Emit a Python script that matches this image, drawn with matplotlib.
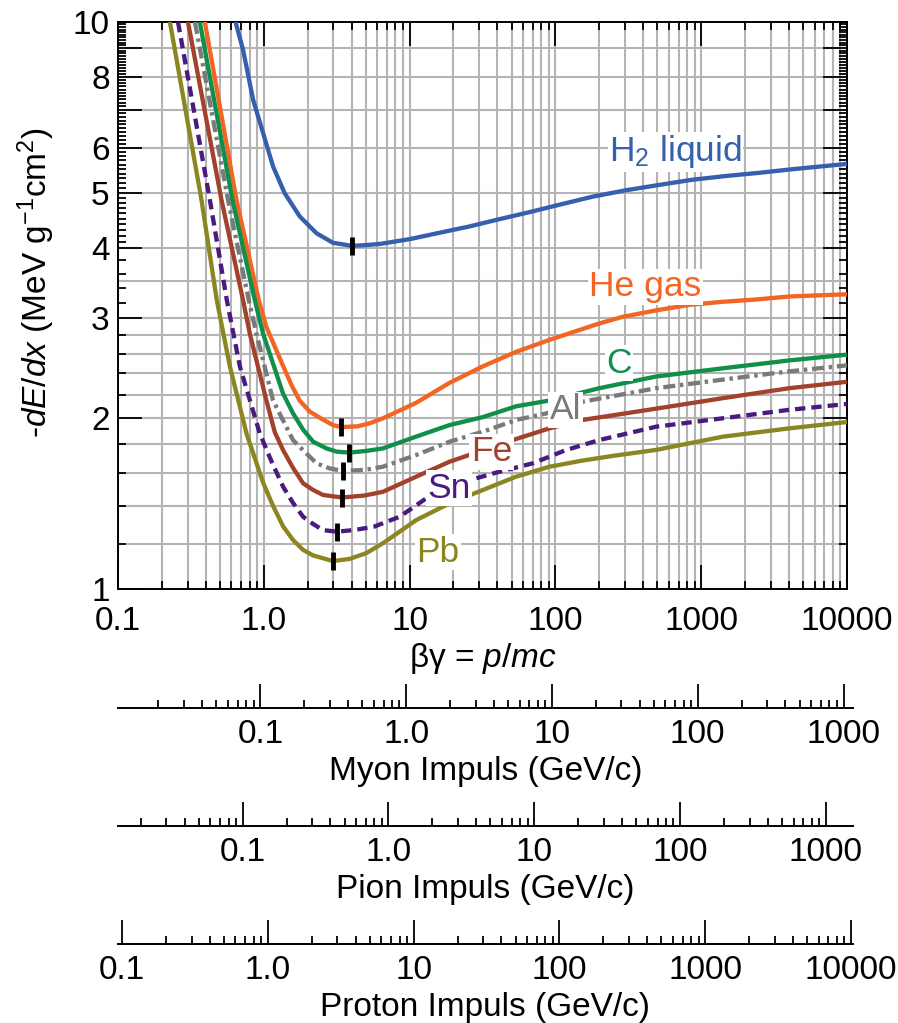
import numpy as np
import matplotlib
matplotlib.use("Agg")
import matplotlib.pyplot as plt
from matplotlib.ticker import LogLocator, NullFormatter, FixedLocator

plt.rcParams['font.family'] = ['Liberation Sans', 'DejaVu Sans']
plt.rcParams['mathtext.fontset'] = 'custom'
plt.rcParams['mathtext.rm'] = 'Liberation Sans'
plt.rcParams['mathtext.it'] = 'Liberation Sans:italic'
plt.rcParams['mathtext.bf'] = 'Liberation Sans:bold'

# ---------------- data ----------------
h2_bg = [0.64, 0.721, 0.845, 0.989, 1.158, 1.39, 1.765, 2.30, 2.98, 4.0, 4.92, 6.23,
         10.0, 16.1, 25.8, 41.3, 66.4, 106, 180, 305, 515, 871, 1475, 2495, 4220, 10000]
h2_de = [10.0, 8.925, 7.29, 6.37, 5.56, 4.99, 4.54, 4.24, 4.08, 4.03, 4.04, 4.06,
         4.14, 4.25, 4.36, 4.49, 4.62, 4.76, 4.92, 5.05, 5.16, 5.27, 5.35, 5.42, 5.50, 5.62]

he_bg = [0.394, 0.650, 0.924, 1.04, 1.36, 1.548, 1.76, 2.066, 2.54, 2.98, 3.40, 4.40,
         5.32, 6.56, 11.1, 18.8, 31.8, 53.8, 91, 200, 289, 490, 828, 1400, 2370, 4010, 10000]
he_de = [10.0, 4.85, 3.23, 2.90, 2.47, 2.29, 2.15, 2.055, 1.99, 1.946, 1.93, 1.936,
         1.96, 2.00, 2.13, 2.31, 2.47, 2.62, 2.75, 2.94, 3.02, 3.10, 3.17, 3.21, 3.24, 3.28, 3.31]

c_bg = [0.364, 0.610, 0.868, 0.989, 1.356, 1.588, 1.86, 2.18, 2.69, 3.15, 3.85, 5.05,
        6.56, 11.1, 18.8, 31.8, 53.8, 91, 200, 490, 1400, 4010, 10000]
c_de = [10.0, 4.85, 3.23, 2.82, 2.21, 2.04, 1.91, 1.819, 1.77, 1.747, 1.74, 1.752,
        1.77, 1.857, 1.946, 2.01, 2.10, 2.15, 2.26, 2.37, 2.45, 2.53, 2.59]

al_bg = [0.337, 0.569, 0.789, 0.891, 1.158, 1.35, 1.588, 1.91, 2.30, 2.83, 3.49, 4.92,
         6.56, 11.1, 18.8, 31.8, 53.8, 86.4, 154, 490, 1400, 4010, 10000]
al_de = [10.0, 4.85, 3.23, 2.82, 2.15, 1.987, 1.83, 1.745, 1.666, 1.632, 1.615, 1.622,
         1.643, 1.723, 1.819, 1.894, 1.987, 2.04, 2.14, 2.26, 2.34, 2.42, 2.48]

fe_bg = [0.302, 0.513, 0.721, 0.802, 1.04, 1.19, 1.356, 1.588, 1.86, 2.18, 2.55, 3.45,
         4.92, 6.56, 11.1, 18.8, 51.0, 91, 154, 490, 1400, 4010, 10000]
fe_de = [10.0, 4.85, 3.23, 2.82, 2.154, 1.89, 1.758, 1.635, 1.536, 1.495, 1.465, 1.45,
         1.462, 1.484, 1.578, 1.677, 1.831, 1.92, 1.987, 2.08, 2.17, 2.26, 2.32]

sn_bg = [0.258, 0.427, 0.558, 0.685, 0.802, 0.939, 1.134, 1.356, 1.588, 1.86, 2.18,
         2.55, 3.19, 4.20, 5.7, 8.54, 13.0, 25.8, 41.3, 69.9, 118, 200, 490, 1400, 4010, 10000]
sn_de = [10.0, 4.85, 3.23, 2.47, 2.154, 1.88, 1.675, 1.515, 1.418, 1.341, 1.302,
         1.27, 1.262, 1.271, 1.288, 1.341, 1.445, 1.556, 1.61, 1.666, 1.758, 1.831, 1.933, 2.0, 2.07, 2.12]

pb_bg = [0.227, 0.374, 0.476, 0.585, 0.761, 0.989, 1.158, 1.36, 1.588, 1.86, 2.18, 2.55,
         2.98, 3.88, 5.05, 6.56, 11.1, 18.8, 31.8, 53.8, 91, 154, 260, 490, 1400, 4010, 10000]
pb_de = [10.0, 4.85, 3.23, 2.47, 1.88, 1.54, 1.401, 1.288, 1.22, 1.172, 1.146, 1.133,
         1.12, 1.13, 1.157, 1.204, 1.323, 1.416, 1.495, 1.578, 1.643, 1.685, 1.72, 1.759, 1.856, 1.92, 1.97]

# minimum-ionisation markers (H2, He, C, Al, Fe, Sn, Pb)
min_bg = [4.0, 3.40, 3.85, 3.49, 3.45, 3.19, 2.98]
min_de = [4.03, 1.93, 1.74, 1.615, 1.45, 1.262, 1.12]

# particle masses (GeV/c^2) for the momentum scales
part_names = ['Myon Impuls (GeV/c)', 'Pion Impuls (GeV/c)', 'Proton Impuls (GeV/c)']
part_mass = [0.10566, 0.13957, 0.93827]
part_ticks = [[0.1, 1, 10, 100, 1000], [0.1, 1, 10, 100, 1000],
              [0.1, 1, 10, 100, 1000, 10000]]
part_ticklabels = [['0.1', '1.0', '10', '100', '1000'], ['0.1', '1.0', '10', '100', '1000'],
                   ['0.1', '1.0', '10', '100', '1000', '10000']]

x_ticks = [0.1, 1, 10, 100, 1000, 10000]
x_ticklabels = ['0.1', '1.0', '10', '100', '1000', '10000']
y_ticks = [1, 2, 3, 4, 5, 6, 7, 8, 9, 10]
y_ticklabels = ['1', '2', '3', '4', '5', '6', '', '8', '', '10']
y_grid = [1.2, 1.4, 1.6, 1.8, 2, 2.2, 2.4, 2.6, 2.8, 3, 3.5, 4, 5, 6, 7, 8, 9]

# ---------------- figure ----------------
W, H = 898, 1023
fig = plt.figure(figsize=(W / 100, H / 100), dpi=100)
ax = fig.add_axes([118 / W, 1 - 589 / H, 729 / W, 567 / H])
ax.set_xscale('log')
ax.set_yscale('log')
ax.set_xlim(0.1, 10000)
ax.set_ylim(1, 10)

FS = 24
LFS = 25.5
gridc = '#b4b4b4'
ax.grid(True, which='both', axis='x', color=gridc, lw=1.5, zorder=0)
ax.hlines(y_grid, 0.1, 10000, color=gridc, lw=1.5, zorder=0)
ax.set_axisbelow(True)

LW = 3.1
curves = [
    (h2_bg, h2_de, '#3560ad', '-'),
    (he_bg, he_de, '#f26522', '-'),
    (c_bg, c_de, '#0f8f4a', '-'),
    (al_bg, al_de, '#7a7a7a', (0, (2.8, 1.1, 0.8, 1.1))),
    (fe_bg, fe_de, '#a2422c', '-'),
    (sn_bg, sn_de, '#4a1a80', (0, (2.4, 1.4))),
    (pb_bg, pb_de, '#8c8622', '-'),
]
for bg, de, col, ls in curves:
    ax.plot(bg, de, color=col, ls=ls, lw=LW, zorder=3, solid_joinstyle='round',
            dash_joinstyle='round')

ax.plot(min_bg, min_de, ls='none', marker='|', ms=13, mew=3.5, color='k', zorder=5)

lab_kw = dict(fontsize=LFS, zorder=6, va='center',
              bbox=dict(facecolor='white', edgecolor='none', pad=1.0))
ax.text(234, 5.9, 'H$_2$ liquid', color='#3560ad', ha='left', **lab_kw)
ax.text(171, 3.41, 'He gas', color='#f26522', ha='left', **lab_kw)
ax.text(274, 2.50, 'C', color='#0f8f4a', ha='center', **lab_kw)
ax.text(117, 2.07, 'Al', color='#7a7a7a', ha='center', **lab_kw)
ax.text(36.5, 1.745, 'Fe', color='#a2422c', ha='center', **lab_kw)
ax.text(18.5, 1.507, 'Sn', color='#4a1a80', ha='center', **lab_kw)
ax.text(15.6, 1.162, 'Pb', color='#8c8622', ha='center', **lab_kw)

ax.set_xticks(x_ticks, x_ticklabels)
ax.xaxis.set_minor_locator(LogLocator(base=10, subs=np.arange(2, 10)))
ax.xaxis.set_minor_formatter(NullFormatter())
ax.yaxis.set_major_locator(FixedLocator(y_ticks))
ax.set_yticklabels(y_ticklabels)
ymin = list(np.round(np.arange(1.2, 4.0, 0.2), 2)) + \
    [v for v in np.round(np.arange(4.1, 10.0, 0.1), 2) if abs(v - round(v)) > 1e-6]
ax.yaxis.set_minor_locator(FixedLocator(ymin))
ax.yaxis.set_minor_formatter(NullFormatter())

ax.tick_params(which='both', direction='in', top=True, right=True, labelsize=FS,
               width=1.3, color='k')
ax.tick_params(which='major', length=17)
ax.tick_params(which='minor', length=5.5)
ax.tick_params(axis='x', pad=12)
ax.tick_params(axis='y', pad=6)
for s in ax.spines.values():
    s.set_linewidth(1.4)

ax.set_xlabel('βγ = $p/mc$', fontsize=FS, labelpad=3)
ax.set_ylabel('-$dE/dx$ (MeV g$^{-1}$cm$^2$)', fontsize=FS)
ax.yaxis.set_label_coords(-0.083, 0.54)

# ---------------- momentum scales ----------------
spine_y = [708, 826, 944]
sub_w = 735
for name, m, tks, tls, yy in zip(part_names, part_mass, part_ticks, part_ticklabels, spine_y):
    sa = fig.add_axes([118 / W, 1 - yy / H, sub_w / W, 1 / H])
    sa.set_facecolor('none')
    sa.set_xscale('log')
    lo = 0.1 * m
    sa.set_xlim(lo, lo * 10 ** (5 * sub_w / 729))
    for k in ['top', 'left', 'right']:
        sa.spines[k].set_visible(False)
    sa.spines['bottom'].set_linewidth(1.4)
    sa.yaxis.set_visible(False)
    sa.set_xticks(tks, tls)
    sa.xaxis.set_minor_locator(LogLocator(base=10, subs=np.arange(2, 10)))
    sa.xaxis.set_minor_formatter(NullFormatter())
    sa.tick_params(which='both', direction='in', labelsize=FS, width=1.3, pad=8)
    sa.tick_params(which='major', length=17)
    sa.tick_params(which='minor', length=5.5)
    sa.set_xlabel(name, fontsize=FS, labelpad=4)

fig.savefig('out.png', dpi=100)
